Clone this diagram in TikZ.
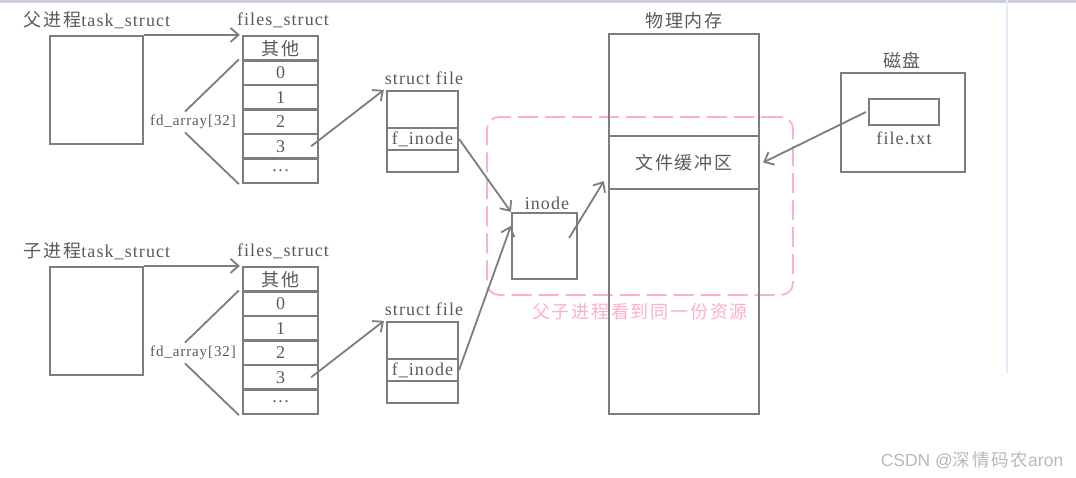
\documentclass[tikz,border=0pt]{standalone}
\usepackage{fontspec}
\setmainfont{Liberation Serif}[LetterSpace=6]
\newfontfamily\cjk{Noto Sans CJK SC}[LetterSpace=10]
\newfontfamily\wmfont{Liberation Sans}
\usetikzlibrary{arrows.meta}
\definecolor{linegray}{RGB}{125,125,125}
\definecolor{textgray}{RGB}{90,90,90}
\definecolor{softpink}{RGB}{255,175,200}
\definecolor{edgeblue}{RGB}{226,236,250}
\definecolor{topbar}{RGB}{200,208,222}

\begin{document}
\begin{tikzpicture}[x=1pt,y=-1pt]
\tikzstyle{every node}=[text=textgray,font=\fontsize{18}{20}\selectfont]
\tikzstyle{box}=[draw=linegray,line width=2.2pt,inner sep=0pt]
\tikzstyle{cell}=[box,minimum width=75pt,minimum height=24.5pt]
\tikzstyle{fcell}=[box,minimum width=71pt]
\tikzstyle{ptr}=[draw=linegray,line width=1.8pt,-{Straight Barb[length=8pt,width=14pt]}]
\tikzstyle{plain}=[draw=linegray,line width=1.8pt]

\fill[white] (0,0) rectangle (1076,477);
\useasboundingbox (0,0) rectangle (1076,477);
\fill[topbar] (0,0) rectangle (1076,2.5);
\draw[edgeblue,line width=2pt] (1007,0) -- (1007,373);

\foreach \p/\dy/\who in {p/0/父进程,c/231/子进程}{
  \node (\p-name) at (97,20+\dy) {{\cjk \who}task\_struct};
  \node[box,minimum width=93pt,minimum height=108pt] (\p-task) at (96.5,90+\dy) {};
  \node (\p-fslab) at (283,20+\dy) {files\_struct};
  \foreach \txt [count=\i] in {{\cjk 其他},0,1,2,3,\ldots}
    \node[cell] (\p-f\i) at (280.5,{48.25+24.5*(\i-1)+\dy}) {\txt};
  \draw[ptr] (\p-task.north east) -- ([xshift=-2pt]\p-f1.north west);
  \node[font=\fontsize{15}{17}\selectfont] (\p-fd) at (193,122+\dy) {fd\_array[32]};
  \draw[plain] ([xshift=-8pt]\p-fd.north) -- ([xshift=-3pt]\p-f2.north west);
  \draw[plain] ([xshift=-8pt]\p-fd.south) -- ([xshift=-3pt]\p-f6.south west);
  \node (\p-sflab) at (424,78+\dy) {struct file};
  \node[fcell,minimum height=37pt] (\p-sf1) at (422.5,109.5+\dy) {};
  \node[fcell,minimum height=22pt] (\p-sf2) at (422.5,139+\dy) {f\_inode};
  \node[fcell,minimum height=22pt] (\p-sf3) at (422.5,161+\dy) {};
  \draw[ptr] ([xshift=-8pt]\p-f5.east) -- ([xshift=-2pt]\p-sf1.north west);
}

% shared part
\node[draw=softpink,line width=1.8pt,dash pattern=on 20pt off 7pt,rounded corners=12pt,
  minimum width=306pt,minimum height=178pt] (share) at (640,206) {};
\node[text=softpink,font=\cjk\fontsize{18}{20}\selectfont] (sharelab) at (640,312) {父子进程看到同一份资源};

\node (inodelab) at (547,203) {inode};
\node[box,minimum width=65pt,minimum height=66pt] (inode) at (544.5,246) {};
\draw[ptr] (p-sf2.east) -- (inode.north west);
\draw[ptr] (c-sf2.east) -- ([yshift=-14pt]inode.north west);

\node[font=\cjk\fontsize{18}{20}\selectfont] (memlab) at (684,21) {物理内存};
\node[box,minimum width=150pt,minimum height=102pt] (mem1) at (684,85) {};
\node[box,minimum width=150pt,minimum height=53pt] (buf) at (684,162.5) {{\cjk 文件缓冲区}};
\node[box,minimum width=150pt,minimum height=225pt] (mem3) at (684,301.5) {};
\draw[ptr] ([xshift=-9pt,yshift=8pt]inode.east) -- ([xshift=-4pt,yshift=9pt]buf.south west);

\node[font=\cjk\fontsize{18}{20}\selectfont] (disklab) at (902,60) {磁盘};
\node[box,minimum width=124pt,minimum height=99pt] (disk) at (903,122.5) {};
\node[box,minimum width=70pt,minimum height=26pt] (file) at (904,112) {};
\node (filelab) at (904,138) {file.txt};
\draw[ptr] ([xshift=-2pt]file.west) -- ([xshift=3pt]buf.east);

\node[text=gray!55,font=\wmfont\fontsize{17.5}{19}\selectfont] (mark) at (972,460) {CSDN @{\cjk 深情码农}aron};
\end{tikzpicture}
\end{document}
